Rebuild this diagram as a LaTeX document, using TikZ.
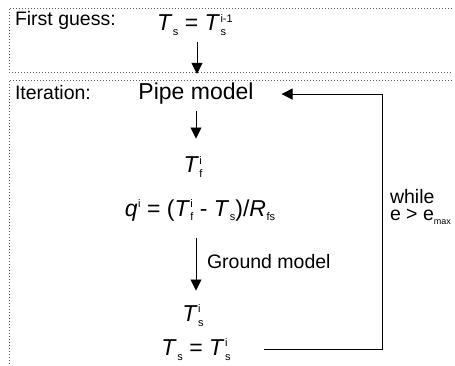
\documentclass[tikz,border=0pt]{standalone}
\usepackage{fontspec}
\setmainfont{Liberation Sans}
\usetikzlibrary{arrows.meta}
\newcommand{\bigsz}{\fontsize{23}{27}\selectfont}
\newcommand{\labsz}{\fontsize{19.5}{15.5}\selectfont}
\newcommand{\subsz}{\fontsize{11}{11}\selectfont}
% italic quantity with sub- and superscript stacked
\newcommand{\vq}[3]{\textit{#1}\kern.5pt{\subsz\rlap{\raisebox{8.5pt}{#3}}\raisebox{-5pt}{#2}}}
\newcommand{\sq}[2]{\textit{#1}\kern.5pt{\subsz\raisebox{8.5pt}{#2}}}
\newcommand{\bq}[2]{\textit{#1}\kern.5pt{\subsz\raisebox{-5pt}{#2}}}

\begin{document}
\begin{tikzpicture}[x=1pt, y=1pt,
  every node/.style = {inner sep=0pt, outer sep=0pt},
  tag/.style        = {font=\labsz, anchor=base west},
  quant/.style      = {font=\bigsz, anchor=base},
  flow/.style       = {-{Triangle[length=11pt, width=11pt]}, draw=black, line width=0.9pt},
  frame/.style      = {draw=black!65, line width=0.9pt, dash pattern=on 0.9pt off 2.1pt},
]
  \useasboundingbox (0,0) rectangle (455,-366);

  % ---------------------------------------------------------------- frames
  \draw[frame] (452,-8) -- (9,-8) -- (9,-72) -- (452,-72);
  \draw[frame] (452,-80) -- (9,-80) -- (9,-366);

  \coordinate (axis)  at (196,0);
  \coordinate (loopx) at (382,0);

  % ----------------------------------------------------------- first guess
  \node[tag]                        (fglab) at (15,-26)  {First guess:};
  \node[quant, anchor=base west]    (guess) at (157,-31) {\vq{T}{s}{} = \vq{T}{s}{i-1}};
  \coordinate (guessend) at (197,-74);
  \draw[flow, shorten <=6pt] (guess.south -| guessend) -- (guessend);

  % ------------------------------------------------------------- iteration
  \node[tag]   (itlab) at (15,-100)  {Iteration:};
  \node[quant] (pipe)  at (196,-100) {Pipe model};
  \node[quant] (tf)    at (193,-173) {\vq{T}{f}{i}};
  \node[quant] (flux)  at (200,-216) {\sq{q}{i} = (\vq{T}{f}{i} - \bq{T}{s})/\bq{R}{fs}};
  \node[quant] (tsi)   at (193,-321) {\vq{T}{s}{i}};
  \node[quant] (tsnew) at (196,-355) {\vq{T}{s}{} = \vq{T}{s}{i}};

  \draw[flow, shorten <=6pt, shorten >=18pt] (pipe.south -| axis) -- (tf.north -| axis);
  \draw[flow, shorten <=17pt, shorten >=14pt] (flux.south -| axis) -- (tsi.north -| axis);
  \node[tag] (gmlab) at (207,-268) {Ground model};

  % ------------------------------------------------------------------ loop
  \draw[flow, shorten <=33pt, shorten >=28pt]
    (tsnew.east) -- (tsnew.east -| loopx) -- (pipe.east -| loopx) -- (pipe.east);
  \node[font=\labsz, align=left, anchor=west] (cond) at (390,-207)
    {while\\[2pt]e > e\raisebox{-4pt}{\fontsize{9}{9}\selectfont max}};

\end{tikzpicture}
\end{document}
